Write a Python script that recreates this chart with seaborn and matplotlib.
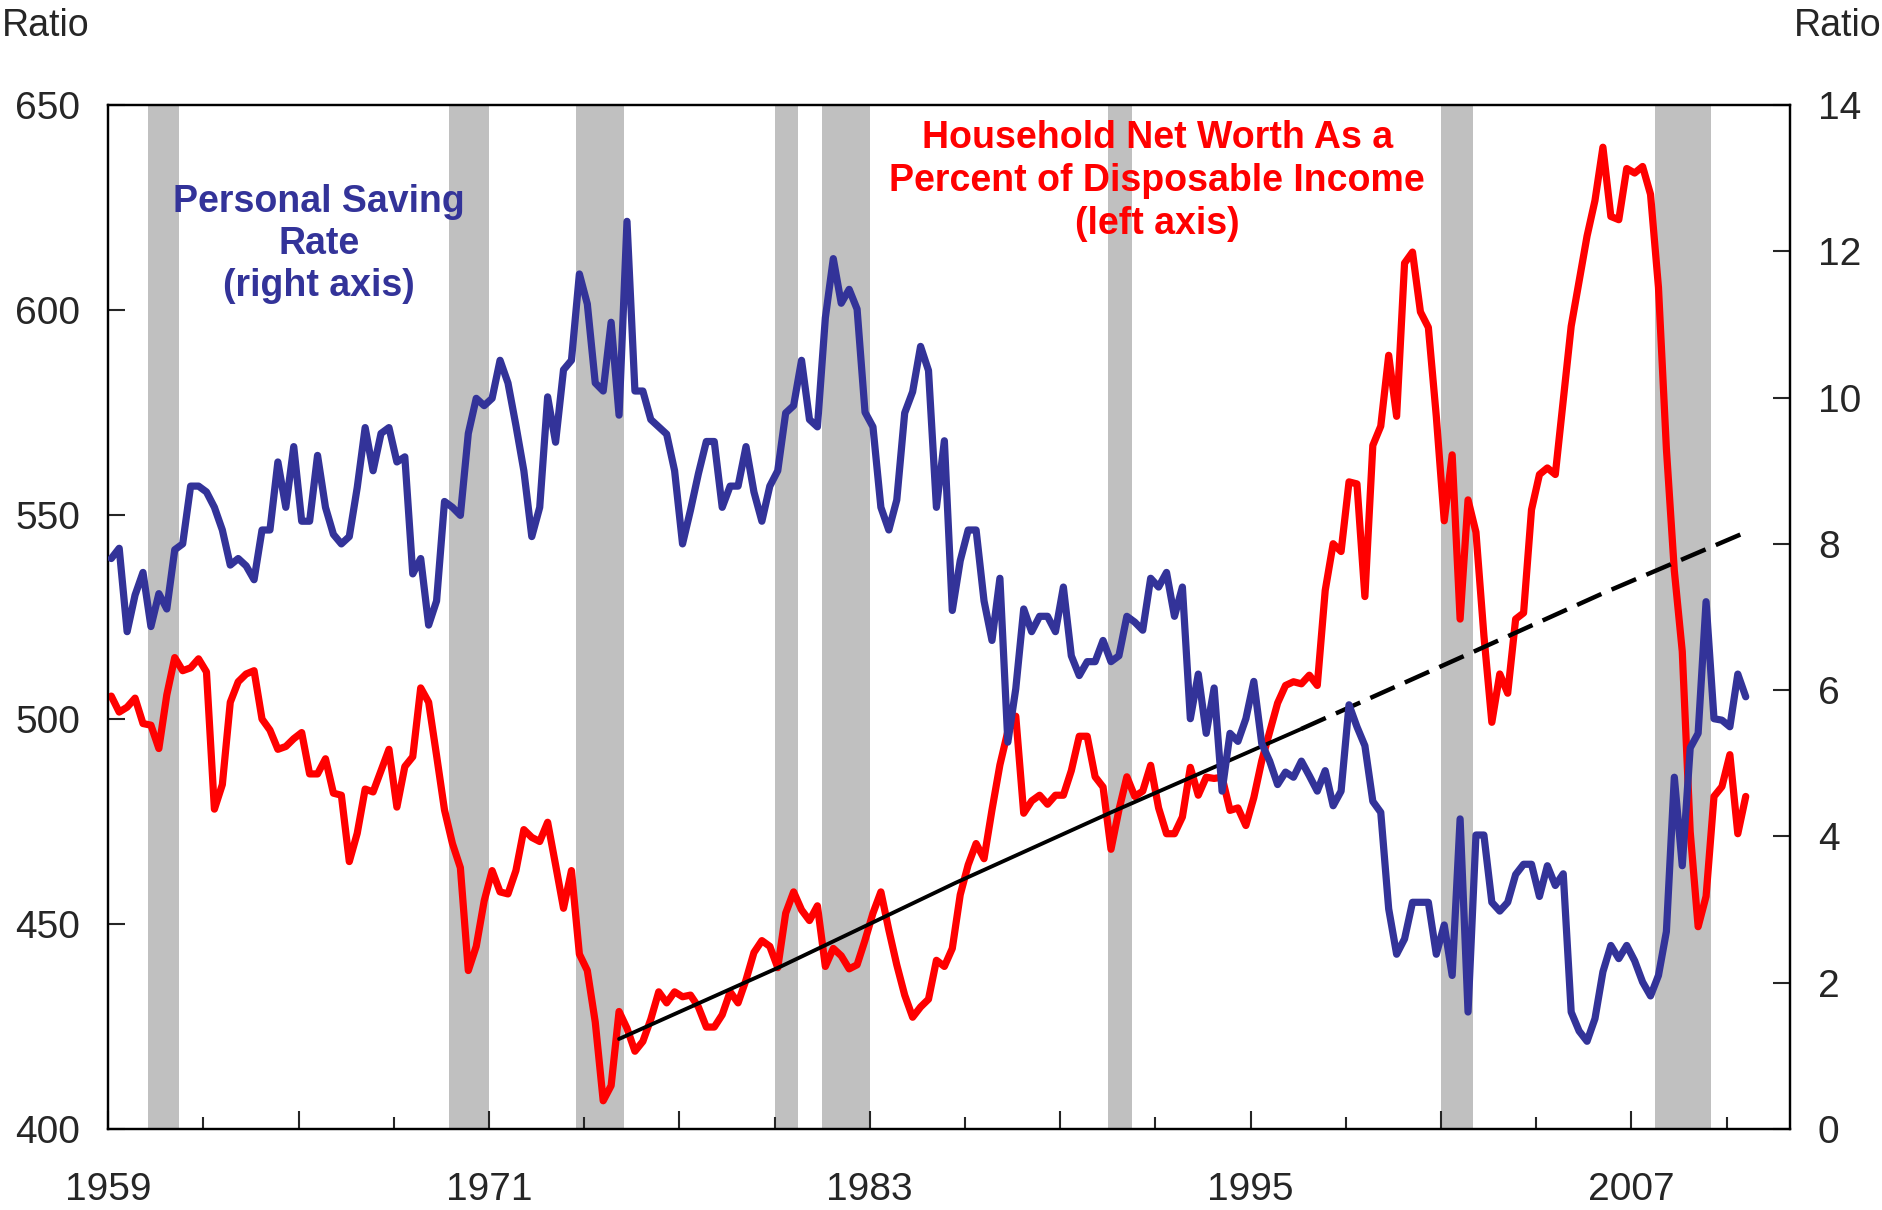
import numpy as np
import pandas as pd
import seaborn as sns
import matplotlib.pyplot as plt
from matplotlib.ticker import FixedLocator, MultipleLocator

# quarterly data, 1959Q1 - 2010Q3
saving_rate = [
    7.80, 7.94, 6.80, 7.30, 7.61, 6.87, 7.32, 7.11, 7.92, 8.00,
    8.79, 8.79, 8.71, 8.50, 8.19, 7.71, 7.80, 7.70, 7.51, 8.19,
    8.19, 9.12, 8.50, 9.33, 8.31, 8.31, 9.21, 8.50, 8.13, 8.00,
    8.10, 8.77, 9.59, 9.00, 9.51, 9.59, 9.12, 9.19, 7.59, 7.80,
    6.89, 7.22, 8.58,
    8.50, 8.39, 9.51, 9.99, 9.89, 9.99, 10.51, 10.20, 9.62, 9.00,
    8.10, 8.50, 10.01, 9.39, 10.38, 10.51, 11.69, 11.28, 10.20, 10.09,
    11.03, 9.76, 12.41, 10.09, 10.09, 9.70, 9.60, 9.50, 9.00, 8.00,
    8.46, 8.96, 9.40, 9.40, 8.50, 8.79, 8.79, 9.33, 8.71, 8.31,
    8.79, 9.00, 9.79,
    9.89, 10.51, 9.70, 9.60, 11.09, 11.90, 11.29, 11.48, 11.21, 9.80,
    9.60, 8.50, 8.19, 8.60, 9.79, 10.08, 10.70, 10.37, 8.50, 9.41,
    7.09, 7.77, 8.19, 8.19, 7.22, 6.68, 7.53, 5.29, 6.02, 7.11,
    6.80, 7.01, 7.01, 6.80, 7.41, 6.47, 6.20, 6.39, 6.39, 6.68,
    6.39, 6.47, 7.01,
    6.93, 6.82, 7.53, 7.41, 7.61, 7.01, 7.41, 5.61, 6.22, 5.41,
    6.03, 4.62, 5.41, 5.30, 5.61, 6.12, 5.27, 5.03, 4.71, 4.88,
    4.81, 5.03, 4.83, 4.62, 4.90, 4.42, 4.62, 5.80, 5.50, 5.24,
    4.48, 4.33, 3.01, 2.39, 2.60, 3.10, 3.10, 3.10, 2.39, 2.79,
    2.10, 4.24, 1.60,
    4.02, 4.02, 3.10, 2.98, 3.10, 3.48, 3.62, 3.62, 3.18, 3.60,
    3.33, 3.49, 1.60, 1.34, 1.20, 1.51, 2.15, 2.51, 2.33, 2.51,
    2.30, 2.01, 1.82, 2.10, 2.70, 4.81, 3.60, 5.21, 5.41, 7.21,
    5.61, 5.59, 5.50, 6.22, 5.91,
]

net_worth = [
    505.7, 501.8, 503.0, 505.2, 499.0, 498.6, 492.9, 506.0, 515.1, 511.9,
    512.6, 514.8, 511.6, 478.1, 484.1, 504.2, 509.2, 511.1, 511.9, 500.1,
    497.4, 492.7, 493.4, 495.3, 496.8, 486.7, 486.7, 490.4, 482.0, 481.5,
    465.3, 472.2, 483.0, 482.3, 487.5, 492.7, 478.6, 488.5, 490.9, 507.7,
    504.2, 491.2, 477.9,
    469.7, 463.8, 438.7, 444.6, 455.7, 463.1, 457.9, 457.4, 463.1, 473.1,
    471.2, 470.2, 474.9, 464.5, 453.9, 463.1, 442.7, 438.7, 426.1, 406.9,
    410.6, 428.7, 424.6, 419.0, 421.4, 426.8, 433.5, 430.8, 433.5, 432.3,
    432.7, 429.8, 424.9, 424.9, 427.9, 433.5, 430.8, 436.4, 443.1, 446.0,
    444.6, 439.4, 452.7,
    457.9, 453.5, 450.9, 454.5, 439.7, 444.1, 442.3, 439.1, 440.1, 446.1,
    452.7, 457.9, 448.6, 440.1, 432.7, 427.3, 429.8, 431.7, 441.2, 439.7,
    444.1, 457.2, 464.5, 469.7, 466.0, 477.9, 488.9, 497.1, 500.8, 477.1,
    480.1, 481.5, 479.3, 481.5, 481.5, 487.5, 495.9, 495.9, 486.0, 483.5,
    468.3, 477.9, 486.0,
    481.2, 482.5, 488.8, 478.4, 472.1, 472.1, 476.2, 488.3, 481.5, 485.9,
    485.6, 485.9, 477.8, 478.4, 474.1, 480.9, 489.9, 496.9, 504.0, 508.3,
    509.2, 508.7, 510.8, 508.3, 531.5, 542.9, 541.0, 558.0, 557.5, 530.0,
    566.9, 571.6, 588.9, 574.0, 611.4, 614.1, 599.5, 595.7, 574.0, 548.5,
    564.6, 524.5, 553.6,
    545.7, 520.5, 499.3, 511.1, 506.4, 524.5, 526.0, 551.2, 559.8, 561.4,
    559.8, 577.9, 596.0, 607.0, 618.0, 626.7, 639.7, 622.8, 622.0, 634.5,
    633.4, 635.0, 628.2, 605.5, 566.1, 536.3, 516.6, 472.6, 449.4, 456.8,
    481.2, 483.6, 491.4, 472.1, 481.2,
]

# trend line (left axis): solid part, then dashed
trend_years_solid = [1975.1, 1980.2, 1985.7, 1990.6, 1996.6]
trend_solid = [422.0, 439.7, 460.1, 477.3, 497.7]
trend_years_dash = [1996.6, 2001.9, 2006.1, 2010.6]
trend_dash = [497.7, 516.1, 530.8, 545.7]

# recessions
rec_start = [1960.25, 1969.75, 1973.75, 1980.0, 1981.5, 1990.5, 2001.0, 2007.75]
rec_end = [1961.25, 1971.0, 1975.25, 1980.75, 1983.0, 1991.25, 2002.0, 2009.5]

quarters = pd.period_range('1959Q1', periods=len(saving_rate), freq='Q')
x_years = quarters.year + (quarters.quarter - 1) / 4 + 0.1
df = pd.DataFrame({'year': x_years, 'saving': saving_rate, 'networth': net_worth})

sns.set_style("white")
plt.rcParams['font.family'] = ['Liberation Sans', 'DejaVu Sans']

blue = '#333399'
red = '#ff0000'

fig = plt.figure(figsize=(18.83, 12.10), dpi=100)
ax = fig.add_axes([0.0574, 0.0669, 0.8933, 0.8463])
ax2 = ax.twinx()

for s, e in zip(rec_start, rec_end):
    ax.axvspan(s, e, color='#c0c0c0', lw=0, zorder=0)

sns.lineplot(data=df, x='year', y='networth', ax=ax, color=red, lw=5.2, zorder=3)
sns.lineplot(x=trend_years_solid, y=trend_solid, ax=ax, color='black', lw=2.8, zorder=4)
sns.lineplot(x=trend_years_dash, y=trend_dash, ax=ax, color='black', lw=3.2,
             linestyle=(0, (6, 2.5)), zorder=4)
sns.lineplot(data=df, x='year', y='saving', ax=ax2, color=blue, lw=5.2, zorder=3)

ax.set_xlim(1959, 2012)
ax.set_ylim(400, 650)
ax2.set_ylim(0, 14)
ax.set_xlabel('')
ax.set_ylabel('')
ax2.set_ylabel('')

major = list(range(1959, 2013, 6))
ax.xaxis.set_major_locator(FixedLocator(major))
ax.set_xticklabels([str(y) if (y - 1959) % 12 == 0 else '' for y in major])
ax.xaxis.set_minor_locator(FixedLocator(list(range(1962, 2012, 6))))
ax.yaxis.set_major_locator(MultipleLocator(50))
ax2.yaxis.set_major_locator(MultipleLocator(2))

ax.tick_params(axis='x', which='major', direction='in', length=13, width=1.5,
               pad=31, labelsize=28, bottom=True)
ax.tick_params(axis='x', which='minor', direction='in', length=9, width=1.5, bottom=True)
ax.tick_params(axis='y', direction='in', length=12, width=1.5, pad=20,
               labelsize=28, left=True)
ax2.tick_params(axis='y', direction='in', length=12, width=1.5, pad=20,
                labelsize=28, right=True)

for a in (ax, ax2):
    for sp in a.spines.values():
        sp.set_color('black')
        sp.set_linewidth(1.6)

ax2.text(0.1254, 0.864, 'Personal Saving\nRate\n(right axis)', transform=ax2.transAxes,
         ha='center', va='center', color=blue, fontsize=27, fontweight='bold',
         linespacing=1.22)
ax2.text(0.6237, 0.926, 'Household Net Worth As a\nPercent of Disposable Income\n(left axis)',
         transform=ax2.transAxes, ha='center', va='center', color=red, fontsize=27,
         fontweight='bold', linespacing=1.25)

fig.text(0.001, 1 - 26 / 1210, 'Ratio', ha='left', va='center', fontsize=27)
fig.text(0.999, 1 - 26 / 1210, 'Ratio', ha='right', va='center', fontsize=27)

plt.savefig('out.png', dpi=100)
